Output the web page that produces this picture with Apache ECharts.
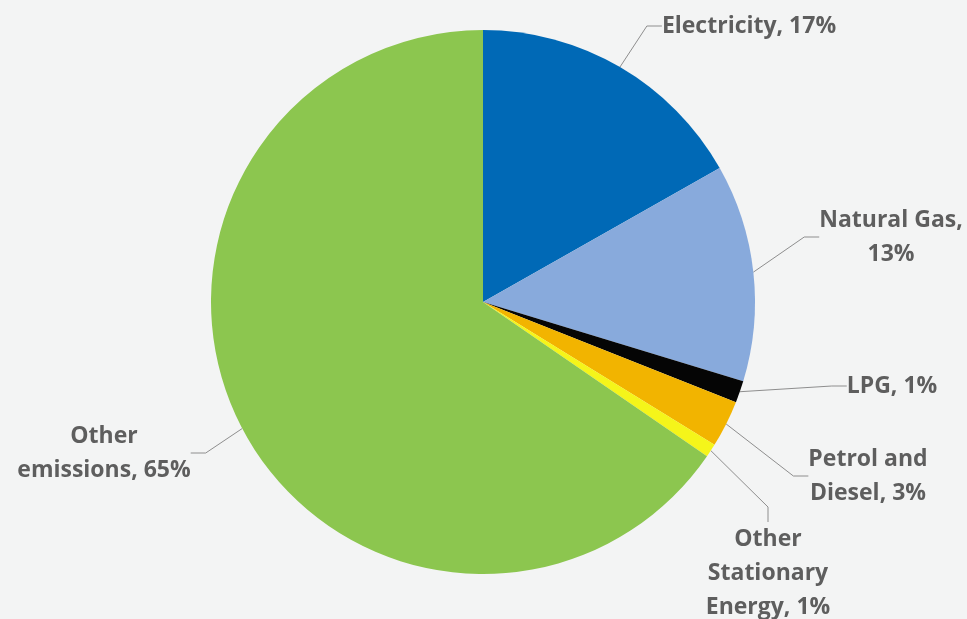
<!DOCTYPE html>
<html>
<head>
<meta charset="utf-8">
<script src="https://cdn.jsdelivr.net/npm/echarts@6/dist/echarts.min.js"></script>
<style>
  html, body { margin: 0; padding: 0; background: #f3f4f4; }
  #chart { width: 967px; height: 619px; }
</style>
</head>
<body>
<div id="chart"></div>
<script>
// data (clockwise from 12 o'clock)
var categories = ['Electricity', 'Natural Gas', 'LPG', 'Petrol and Diesel', 'Other Stationary Energy', 'Other emissions'];
var shares = [16.8, 12.9, 1.3, 2.8, 0.8, 65.4];
var colors = ['#0069b6', '#88aadc', '#050505', '#f2b400', '#f5f51a', '#8cc64f'];
// word index after which the label wraps
var breakAfter = [[], [1], [], [1], [0, 1], [0]];
// label centres, like the hand-placed labels of the original
var labelPos = [[749, 26], [891, 237], [892, 386], [868, 476], [768, 573], [104, 453]];

var chart = echarts.init(document.getElementById('chart'));

var option = {
  backgroundColor: '#f3f4f4',
  animation: false,
  series: [{
    type: 'pie',
    center: [483, 302],
    radius: 272,
    startAngle: 90,
    percentPrecision: 0,
    data: categories.map(function (c, i) {
      return { name: c, value: shares[i], itemStyle: { color: colors[i] } };
    }),
    label: {
      show: true,
      position: 'outside',
      color: '#5e5e5e',
      fontFamily: '"Open Sans", sans-serif',
      fontWeight: 'bold',
      fontSize: 23,
      lineHeight: 34,
      align: 'center',
      formatter: function (p) {
        var words = (p.name + ', ' + p.percent + '%').split(' ');
        var s = words[0];
        for (var i = 1; i < words.length; i++) {
          s += (breakAfter[p.dataIndex].indexOf(i - 1) >= 0 ? '\n' : ' ') + words[i];
        }
        return s;
      }
    },
    labelLine: {
      show: true,
      length: 20,
      length2: 15,
      lineStyle: { color: '#8e8e8e', width: 1 }
    },
    labelLayout: function (params) {
      var p = labelPos[params.dataIndex];
      return { x: p[0], y: p[1], align: 'center', verticalAlign: 'middle' };
    },
    emphasis: { disabled: true }
  }]
};

chart.setOption(option);
</script>
</body>
</html>
